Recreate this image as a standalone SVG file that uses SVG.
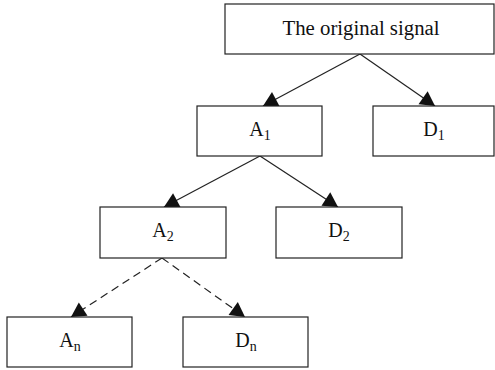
<svg xmlns="http://www.w3.org/2000/svg" width="495" height="370" viewBox="0 0 495 370">
<defs>
<marker id="arr" markerUnits="userSpaceOnUse" markerWidth="18" markerHeight="18" viewBox="-16 -9 18 18" refX="0" refY="0" orient="auto">
<path d="M0,0 L-14.5,-8 L-14.5,8 Z" fill="#111"/>
</marker>
<style>
.box{fill:#fff;stroke:#222;stroke-width:1.2}
.lbl{font-family:"Liberation Serif","Times New Roman",serif;font-size:20px;fill:#111;text-anchor:middle}
.big{font-size:20.8px}
.sub{font-size:14px}
.ln{stroke:#222;stroke-width:1.2;fill:none;marker-end:url(#arr)}
.dash{stroke-dasharray:8 5}
</style>
</defs>
<g id="connectors">
<line class="ln" x1="360" y1="54" x2="263" y2="106"/>
<line class="ln" x1="360" y1="54" x2="435" y2="106"/>
<line class="ln" x1="260" y1="156" x2="164" y2="207"/>
<line class="ln" x1="260" y1="156" x2="338" y2="207"/>
<line class="ln dash" x1="162" y1="258" x2="71" y2="317"/>
<line class="ln dash" x1="162" y1="258" x2="245" y2="317"/>
</g>
<g id="root">
<rect class="box" x="225" y="4" width="269" height="50"/>
<text class="lbl big" x="361" y="35">The original signal</text>
</g>
<g id="A1">
<rect class="box" x="197" y="106" width="125" height="50"/>
<text class="lbl" x="260" y="136">A<tspan class="sub" dy="4">1</tspan></text>
</g>
<g id="D1">
<rect class="box" x="373" y="106" width="121" height="50"/>
<text class="lbl" x="434" y="136">D<tspan class="sub" dy="4">1</tspan></text>
</g>
<g id="A2">
<rect class="box" x="100" y="207" width="126" height="51"/>
<text class="lbl" x="163" y="237">A<tspan class="sub" dy="4">2</tspan></text>
</g>
<g id="D2">
<rect class="box" x="276" y="207" width="126" height="51"/>
<text class="lbl" x="339" y="237">D<tspan class="sub" dy="4">2</tspan></text>
</g>
<g id="An">
<rect class="box" x="7" y="317" width="125" height="50"/>
<text class="lbl" x="70" y="347">A<tspan class="sub" dy="4">n</tspan></text>
</g>
<g id="Dn">
<rect class="box" x="183" y="317" width="125" height="50"/>
<text class="lbl" x="246" y="347">D<tspan class="sub" dy="4">n</tspan></text>
</g>
</svg>
